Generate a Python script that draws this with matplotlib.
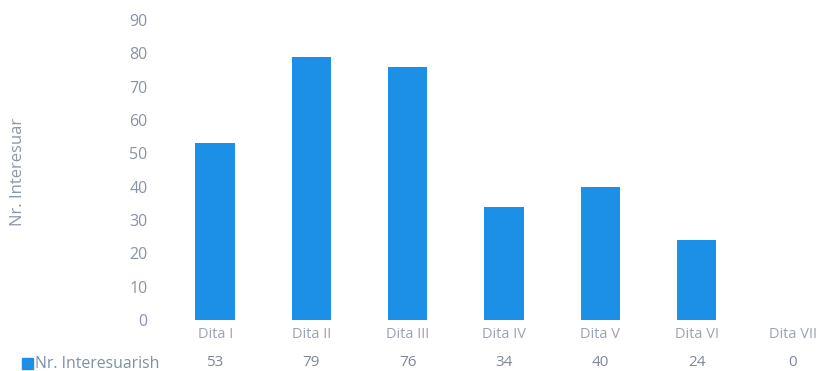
import matplotlib
matplotlib.use("Agg")
import matplotlib.pyplot as plt
from matplotlib.transforms import blended_transform_factory

categories = ["Dita I", "Dita II", "Dita III", "Dita IV", "Dita V", "Dita VI", "Dita VII"]
values = [53, 79, 76, 34, 40, 24, 0]
series_name = "Nr. Interesuarish"
y_label = "Nr. Interesuar"
y_ticks = [0, 10, 20, 30, 40, 50, 60, 70, 80, 90]

plt.rcParams['font.family'] = ['Open Sans', 'DejaVu Sans']

W, H = 820, 371
fig = plt.figure(figsize=(W / 100, H / 100), dpi=100)
left_px, right_px = 167, 841
top_px, bottom_px = 20, 320
ax = fig.add_axes([left_px / W, 1 - bottom_px / H, (right_px - left_px) / W, (bottom_px - top_px) / H])

bar_color = "#1b90e6"
tick_color = "#8893a6"
x = list(range(len(categories)))
ax.bar(x, values, width=0.41, color=bar_color, zorder=2)

ax.set_xlim(-0.5, len(categories) - 0.5)
ax.set_ylim(0, 90)
ax.set_yticks(y_ticks)
ax.set_yticklabels([str(t) for t in y_ticks], fontsize=11.5, color=tick_color)
ax.tick_params(axis='y', length=0, pad=14)
ax.set_xticks(x)
ax.set_xticklabels(categories, fontsize=10.5, color="#9aa3b4")
ax.tick_params(axis='x', length=0, pad=5)
for s in ax.spines.values():
    s.set_visible(False)

# data table row
trans = blended_transform_factory(ax.transData, fig.transFigure)
for xi, v in zip(x, values):
    ax.text(xi, 1 - 363 / H, str(v), transform=trans, clip_on=False,
            ha='center', va='center', fontsize=11, color="#7f8796")

fig.patches.append(plt.Rectangle((22 / W, 1 - 369 / H), 11 / W, 11 / H, transform=fig.transFigure,
                                 color=bar_color))
fig.text(35 / W, 1 - 364 / H, series_name, ha='left', va='center', fontsize=11.4, color="#7f8fa8")

fig.text(18 / W, 1 - 172 / H, y_label, rotation=90, ha='center', va='center', fontsize=12, color="#8c97a8")

fig.savefig("out.png", dpi=100)
